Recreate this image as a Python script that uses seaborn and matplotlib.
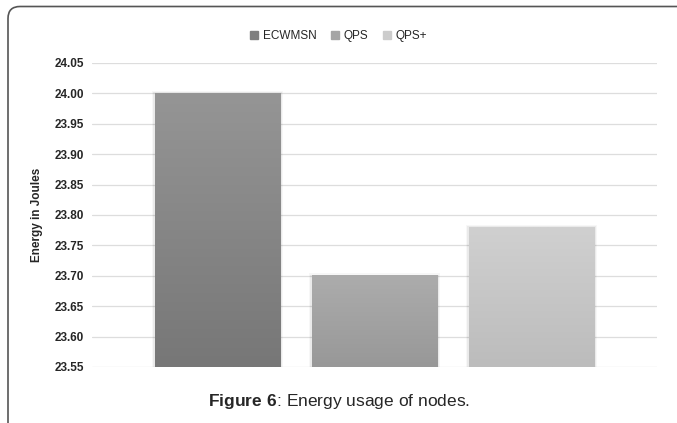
import numpy as np
import pandas as pd
import seaborn as sns
import matplotlib.pyplot as plt
from matplotlib.patches import FancyBboxPatch
from matplotlib.colors import LinearSegmentedColormap

methods = ["ECWMSN", "QPS", "QPS+"]
energy = [24.00, 23.70, 23.78]
yticks = [23.55, 23.60, 23.65, 23.70, 23.75, 23.80, 23.85, 23.90, 23.95, 24.00, 24.05]

# top / bottom shade of each bar, plus legend swatch colour
top_cols = ["#959595", "#acacac", "#d0d0d0"]
bot_cols = ["#777777", "#989898", "#bcbcbc"]
leg_cols = ["#7f7f7f", "#a5a5a5", "#cccccc"]

sns.set_style("white")
plt.rcParams["font.family"] = ["Liberation Sans", "DejaVu Sans"]
plt.rcParams["mathtext.fontset"] = "custom"
plt.rcParams["mathtext.rm"] = "Liberation Sans"
plt.rcParams["mathtext.bf"] = "Liberation Sans:bold"

df = pd.DataFrame({"method": methods, "energy": energy})

fig = plt.figure(figsize=(6.77, 4.23), dpi=100)
ax = fig.add_axes([0.1359, 0.1324, 0.8346, 0.7187])

sns.barplot(data=df, x="method", y="energy", hue="method", palette=leg_cols,
            width=0.8, legend=False, ax=ax, zorder=3)

ymin, ymax = 23.55, 24.05
ax.set_ylim(ymin, ymax)
ax.set_xlim(-0.8, 2.8)

# gradient fill + soft shadow on each bar
for i, p in enumerate(ax.patches):
    x0 = p.get_x()
    w = p.get_width()
    top = p.get_height()
    p.set_alpha(0)
    for k, a in enumerate([0.05, 0.03]):
        d = 0.01 * (k + 1)
        ax.fill_between([x0 - d, x0 + w + d], ymin, top + 0.002 * (k + 1),
                        color="black", alpha=a, lw=0, zorder=2)
    cmap = LinearSegmentedColormap.from_list("g", [bot_cols[i], top_cols[i]])
    grad = np.linspace(0, 1, 100).reshape(-1, 1)
    ax.imshow(grad, cmap=cmap, extent=[x0, x0 + w, ymin, top], origin="lower",
              aspect="auto", zorder=4)

ax.set_yticks(yticks)
ax.set_yticklabels([f"{v:.2f}" for v in yticks], fontsize=8.5, fontweight="bold")
ax.tick_params(axis="y", length=0, pad=6)
ax.set_xticks([])
ax.set_xlabel("")
ax.set_ylabel("Energy in Joules", fontsize=8.5, fontweight="bold")
ax.yaxis.set_label_coords(-0.087, 0.5)
ax.grid(axis="y", color="#dddddd", lw=0.9, zorder=0)
sns.despine(ax=ax, left=True, bottom=True)

# legend
handles = [plt.Rectangle((0, 0), 1, 1, color=c) for c in leg_cols]
fig.legend(handles, methods, loc="center", bbox_to_anchor=(0.5, 0.914), ncol=3,
           frameon=False, fontsize=8.5, handlelength=0.7, handleheight=0.7,
           handletextpad=0.4, columnspacing=1.2)

# caption
fig.text(0.5, 0.05, r"$\bf{Figure\ 6}$: Energy usage of nodes.", ha="center",
         va="center", fontsize=12.5)

# rounded frame (open at the bottom / right edge)
frame = FancyBboxPatch((0.08, -1.0), 10, 4.23 - 0.065 + 1.0,
                       boxstyle="round,pad=0,rounding_size=0.12",
                       transform=fig.dpi_scale_trans, fill=False, ec="#555555",
                       lw=1.2, clip_on=False)
fig.patches.append(frame)

fig.savefig("out.png", dpi=100)
